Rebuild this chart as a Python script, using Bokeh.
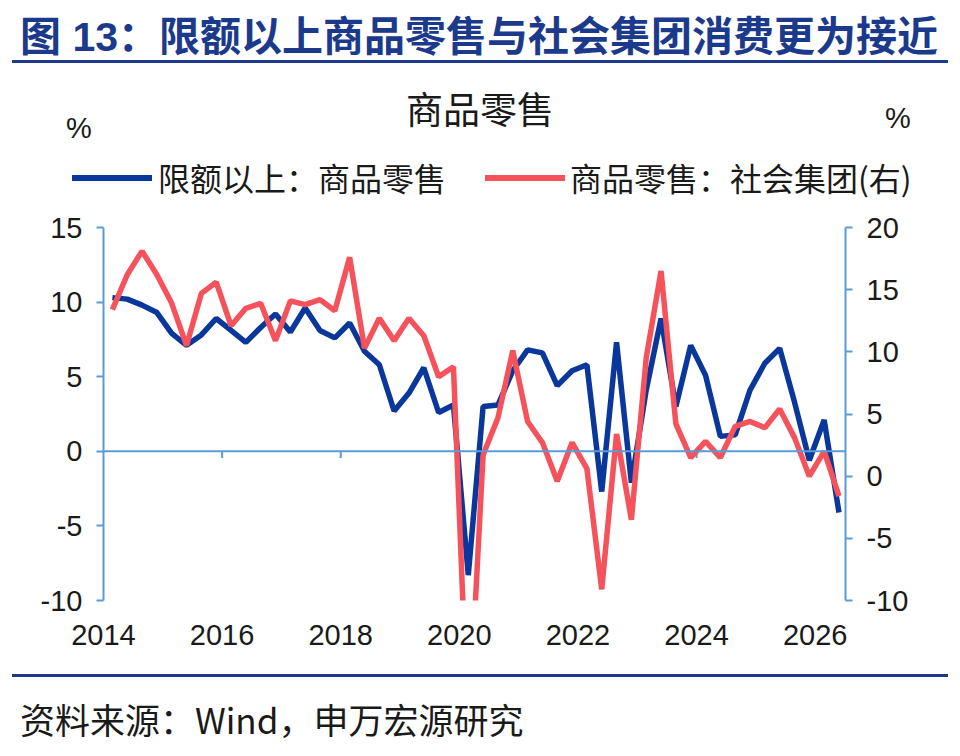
from bokeh.plotting import figure
from bokeh.models import (Range1d, LinearAxis, Span, FixedTicker, CustomJSTickFormatter, Div)
from bokeh.layouts import column
from bokeh.embed import file_html
from bokeh.resources import INLINE

blue_vals = [10.3, 10.2, 9.8, 9.3, 7.9, 7.1, 7.8, 8.9, 8.1, 7.3, 8.3, 9.2, 8.0, 9.6, 8.1, 7.6,
             8.6, 6.7, 5.8, 2.7, 3.9, 5.6, 2.6, 3.1, -8.3, 3.0, 3.1, 5.4, 6.8, 6.6, 4.4, 5.4,
             5.8, -2.7, 7.3, -2.1, 4.1, 8.9, 3.0, 7.1, 5.1, 1.0, 1.1, 4.1, 5.9, 6.9, 3.3, -0.6,
             2.1, -4.1]
red_vals = [13.4, 16.2, 18.1, 16.2, 13.9, 10.5, 14.7, 15.6, 12.1, 13.5, 13.9, 10.9, 14.1, 13.8,
            14.2, 13.3, 17.6, 10.3, 12.7, 10.9, 12.7, 11.3, 8.0, 8.8, -21.0, 1.7, 4.7, 10.1,
            4.4, 2.7, -0.4, 2.7, 0.6, -9.1, 3.4, -3.5, 9.5, 16.5, 4.2, 1.5, 2.8, 1.5, 4.0, 4.4,
            3.9, 5.4, 3.1, 0.0, 2.0, -1.6]
x_vals = [2014.15 + 0.25 * i for i in range(len(blue_vals))]
year_ticks = [2014, 2016, 2018, 2020, 2022, 2024, 2026]
left_ticks = [-10, -5, 0, 5, 10, 15]
right_ticks = [-10, -5, 0, 5, 10, 15, 20]
series_names = ["限额以上：商品零售", "商品零售：社会集团(右)"]

BLUE = "#0A379B"
RED = "#F5525C"
AX = "#5B9BD5"
NAVY = "#1B3A8C"
LAT = "Liberation Sans"
CJK = "'Noto Sans CJK SC'"

p = figure(width=944, height=439, output_backend="svg", toolbar_location=None,
           x_range=Range1d(2014, 2026.51), y_range=Range1d(-10, 15),
           min_border_left=103, min_border_top=16, min_border_right=99, min_border_bottom=50)
p.frame_width = 742
p.frame_height = 373
p.outline_line_color = None
p.grid.visible = False
p.extra_y_ranges = {"r": Range1d(-10, 20)}

p.xaxis.ticker = FixedTicker(ticks=year_ticks)
p.xaxis.axis_line_color = None
p.xaxis.major_tick_line_color = None
p.xaxis.minor_tick_line_color = None
p.xaxis.major_label_standoff = 18

p.yaxis.ticker = FixedTicker(ticks=left_ticks)
ra = LinearAxis(y_range_name="r", ticker=FixedTicker(ticks=right_ticks))
p.add_layout(ra, "right")
for ax in [p.yaxis[0], ra, p.xaxis[0]]:
    ax.formatter = CustomJSTickFormatter(code="return tick.toString();")
    ax.major_label_text_font = LAT
    ax.major_label_text_font_size = "29px"
    ax.major_label_text_color = "#1a1a1a"
for ax in [p.yaxis[0], ra]:
    ax.axis_line_color = AX
    ax.axis_line_width = 2
    ax.major_tick_line_color = AX
    ax.major_tick_line_width = 2
    ax.major_tick_in = 0
    ax.major_tick_out = 7
    ax.minor_tick_line_color = None
    ax.major_label_standoff = 14

p.add_layout(Span(location=0, dimension="width", line_color=AX, line_width=2))
p.segment(x0=year_ticks[1:-1], x1=year_ticks[1:-1], y0=[0] * 5, y1=[-0.45] * 5,
          line_color=AX, line_width=2)

p.line(x_vals, blue_vals, line_color=BLUE, line_width=5.5)
p.line(x_vals, red_vals, line_color=RED, line_width=5.5, y_range_name="r")

def span(x, y, t, size, extra=""):
    return (f'<div style="position:absolute;left:{x}px;top:{y}px;font-size:{size}px;'
            f'line-height:1;white-space:nowrap;font-family:{CJK};color:#1a1a1a;{extra}">{t}</div>')

head = (
    '<div style="position:relative;width:944px;height:211px;">'
    + span(20, 17, "图 13：限额以上商品零售与社会集团消费更为接近", 41,
           f"font-weight:bold;color:{NAVY};font-family:'Liberation Sans',{CJK};")
    + f'<div style="position:absolute;left:12px;top:60px;width:936px;height:3px;background:{NAVY}"></div>'
    + span(480, 90, "商品零售", 37, "transform:translateX(-50%);")
    + span(66, 114, "%", 29, "font-family:'Liberation Sans';")
    + span(885, 104, "%", 29, "font-family:'Liberation Sans';")
    + f'<div style="position:absolute;left:72px;top:175px;width:80px;height:6px;background:{BLUE}"></div>'
    + span(158, 161, series_names[0], 32)
    + f'<div style="position:absolute;left:485px;top:175px;width:80px;height:6px;background:{RED}"></div>'
    + span(570, 161, series_names[1], 32)
    + '</div>'
)
foot = (
    '<div style="position:relative;width:944px;height:100px;">'
    + f'<div style="position:absolute;left:12px;top:24px;width:936px;height:3px;background:{NAVY}"></div>'
    + span(20, 51, "资料来源：Wind，申万宏源研究", 35)
    + '</div>'
)
d1 = Div(text=head, width=944, height=211, margin=0)
d2 = Div(text=foot, width=944, height=100, margin=0)
layout = column(d1, p, d2, spacing=0)

open("out.html", "w").write(file_html(layout, INLINE))
